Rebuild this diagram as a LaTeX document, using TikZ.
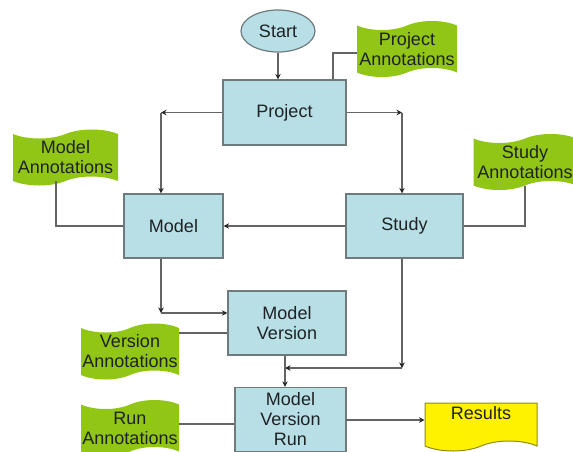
\documentclass[tikz,border=0pt]{standalone}
\usepackage{fontspec}
\setmainfont{Liberation Sans}
\usetikzlibrary{shapes.geometric,shapes.symbols,arrows.meta}
\definecolor{boxfill}{RGB}{184,222,230}
\definecolor{boxline}{RGB}{110,122,124}
\definecolor{flaggreen}{RGB}{145,198,22}
\definecolor{txt}{RGB}{30,34,36}
\definecolor{conn}{RGB}{100,100,100}
\definecolor{resline}{RGB}{140,140,20}
\begin{document}
\begin{tikzpicture}[x=1pt,y=-1pt,
  every node/.style={font=\fontsize{18}{20}\selectfont, text=txt, align=center},
  procbox/.style={rectangle, draw=boxline, line width=1.2pt, fill=boxfill, inner sep=0pt},
  startoval/.style={ellipse, draw=boxline, line width=1.2pt, fill=boxfill, inner sep=0pt, minimum width=74pt, minimum height=42pt},
  annflag/.style={tape, fill=flaggreen, draw=none, tape bend height=9pt, inner sep=0pt, minimum width=100pt, minimum height=56pt},
  resdoc/.style={tape, tape bend top=none, tape bend bottom=in and out, tape bend height=10pt, fill=yellow, draw=resline, line width=1pt, inner sep=0pt, minimum width=112pt, minimum height=48pt},
  link/.style={draw=conn, line width=1.1pt},
  arr/.style={link, -{Stealth[length=5.5pt,width=5.5pt,color=black!85]}}
]
\useasboundingbox (0,0) rectangle (573,451);

% nodes
\node[startoval] (start) at (278,31) {Start};
\node[procbox, minimum width=123pt, minimum height=65pt] (project) at (284.5,112.5) {Project};
\node[annflag] (projann) at (407,49) {Project\\Annotations};
\node[procbox, minimum width=99pt, minimum height=64pt] (model) at (173.5,226) {Model};
\node[procbox, minimum width=117pt, minimum height=64pt] (study) at (404.5,226) {Study};
\node[annflag, minimum width=105pt] (modelann) at (65.5,157.5) {Model\\Annotations};
\node[annflag, minimum width=103pt] (studyann) at (525,162) {Study\\Annotations};
\node[procbox, minimum width=118pt, minimum height=64pt] (mv) at (287,323) {Model\\Version};
\node[annflag, minimum width=98pt] (versann) at (130,351.5) {Version\\Annotations};
\node[procbox, minimum width=111pt, minimum height=64pt] (mvr) at (290.5,419.5) {Model\\Version\\Run};
\node[annflag, minimum width=98pt] (runann) at (130,428) {Run\\Annotations};
\node[resdoc, text depth=18pt] (results) at (481,422) {Results};

% corner coordinates
\coordinate (pl) at (161,112.5);
\coordinate (pr) at (402,112.5);
\coordinate (pa) at (333,53);
\coordinate (ml) at (161,313);
\coordinate (sr) at (402,368);
\coordinate (mj) at (285,368);
\coordinate (va) at (179,333);
\coordinate (ra) at (179,424);
\coordinate (rr) at (346,420);

% connectors
\draw[arr] (start.south) -- (start.south |- project.north);
\draw[link] (project.north -| pa) -- (pa) -- (pa -| projann.west);
\draw[arr] (project.west) -- (pl);
\draw[arr] (pl) -- (pl |- model.north);
\draw[arr] (project.east) -- (pr);
\draw[arr] (pr) -- (pr |- study.north);
\draw[link] (studyann.south) |- (study.east);
\draw[link] ([xshift=-9.5pt]modelann.south) |- (model.west);
\draw[arr] (study.west) -- (model.east);
\draw[arr] (model.south -| ml) -- (ml);
\draw[arr] (ml) -- (ml -| mv.west);
\draw[link] (va) -- (va -| mv.west);
\draw[arr] (study.south -| sr) -- (sr);
\draw[arr] (sr) -- (mj);
\draw[arr] (mv.south -| mj) -- (mj |- mvr.north);
\draw[link] (ra) -- (ra -| mvr.west);
\draw[arr] (rr) -- (rr -| results.west);
\end{tikzpicture}
\end{document}
